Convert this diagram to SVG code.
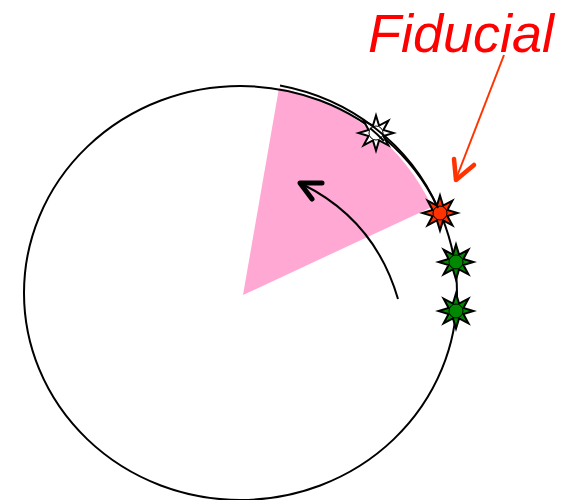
<svg xmlns="http://www.w3.org/2000/svg" xmlns:xlink="http://www.w3.org/1999/xlink" width="566" height="500" viewBox="0 0 566 500">
<style>
.line{fill:none;stroke:#000;stroke-width:2}
.star{stroke:#000;stroke-width:2;stroke-linejoin:miter}
.dot{stroke:#000;stroke-width:1}
.label{font-family:"Liberation Sans",Arial,sans-serif;font-style:italic;font-size:54px;fill:#FF0000}
</style>
<defs>
<polygon id="star" points="0,-17.5 3.06,-7.39 12.4,-12.4 7.39,-3.06 17.5,0 7.39,3.06 12.4,12.4 3.06,7.39 0,17.5 -3.06,7.39 -12.4,12.4 -7.39,3.06 -17.5,0 -7.39,-3.06 -12.4,-12.4 -3.06,-7.39"/>
</defs>
<g id="sector">
<path d="M243,295 L279,88 A215 208 0 0 1 432,207 Z" fill="#FFA8D4"/>
</g>
<g id="wheel">
<ellipse cx="240.5" cy="293" rx="216.5" ry="207" class="line"/>
</g>
<g id="star-green-2">
<use xlink:href="#star" x="456" y="311" fill="#008800" class="star"/>
<circle cx="456" cy="311" r="7" fill="#008800" class="dot"/>
</g>
<g id="star-green-1">
<use xlink:href="#star" x="456" y="262" fill="#008800" class="star"/>
<circle cx="456" cy="262" r="7" fill="#008800" class="dot"/>
</g>
<g id="star-fiducial">
<use xlink:href="#star" x="440" y="213" fill="#FF3300" class="star"/>
<circle cx="440" cy="213" r="7" fill="#FF3300" class="dot"/>
</g>
<g id="star-open">
<use xlink:href="#star" x="376" y="133" fill="#FFFFFF" class="star"/>
<circle cx="376" cy="133" r="7" fill="#FFFFFF" class="dot"/>
</g>
<g id="connectors">
<path d="M280,85.6 A216.5 207 0 0 1 438,208" class="line"/>
<path d="M370,128 A216.5 207 0 0 1 384,141" class="line" stroke-width="1.5"/>
<path d="M398,299 Q375,220 302,184" class="line"/>
<polyline points="322,183 300,183 312,199" fill="none" stroke="#000" stroke-width="5" stroke-linecap="round" stroke-linejoin="round"/>
<line x1="504" y1="55" x2="456" y2="179" stroke="#FF3300" stroke-width="2"/>
<polyline points="454,159 456,180 474,165" fill="none" stroke="#FF3300" stroke-width="4.5" stroke-linecap="round" stroke-linejoin="round"/>
</g>
<g id="label-fiducial">
<text x="368" y="52" class="label" textLength="186" lengthAdjust="spacingAndGlyphs">Fiducial</text>
</g>
</svg>
